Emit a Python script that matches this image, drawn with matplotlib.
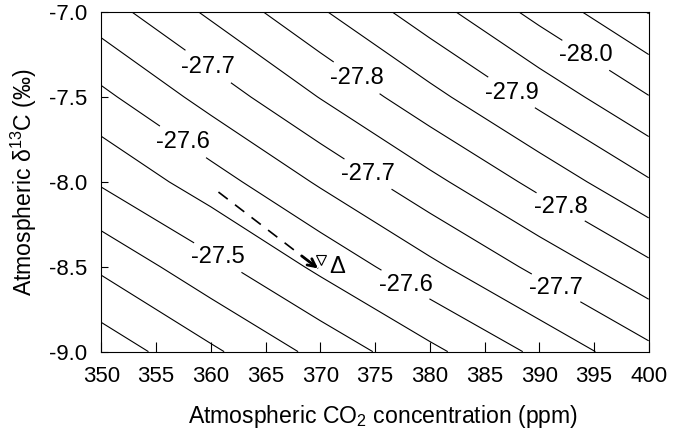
import matplotlib
matplotlib.use('Agg')
import matplotlib.pyplot as plt
import numpy as np

plt.rcParams['font.family'] = ['Liberation Sans', 'DejaVu Sans']
plt.rcParams['mathtext.fontset'] = 'custom'
plt.rcParams['mathtext.rm'] = 'Liberation Sans'
plt.rcParams['mathtext.it'] = 'Liberation Sans:italic'
plt.rcParams['axes.unicode_minus'] = False

# grid
co2 = [350, 360, 370, 380, 390, 400]
d13c_atm = [-9.0, -8.5, -8.0, -7.5, -7.0]
d13c_plant = [
    [-27.319, -27.391, -27.465, -27.538, -27.611, -27.687],
    [-27.409, -27.485, -27.561, -27.638, -27.714, -27.789],
    [-27.506, -27.577, -27.657, -27.736, -27.815, -27.895],
    [-27.588, -27.670, -27.752, -27.834, -27.916, -27.998],
    [-27.677, -27.759, -27.844, -27.929, -28.016, -28.102],
]

plain_levels = [-28.10, -28.05, -27.95, -27.85, -27.75, -27.65, -27.55,
                -27.45, -27.40, -27.35]
label_levels = [-28.0, -27.9, -27.8, -27.7, -27.6, -27.5]
label_spots = [(360.1, -7.29), (374.4, -7.95), (391.4, -8.64),
               (357.4, -7.77), (378.1, -8.57),
               (373.4, -7.38), (392.2, -8.12),
               (394.0, -7.28), (387.4, -7.48), (360.2, -8.49)]

arrow_co2 = [360.7, 369.8]
arrow_d13c = [-8.06, -8.51]

fig, ax = plt.subplots(figsize=(6.8, 4.32), dpi=100)
fig.subplots_adjust(left=0.149, right=0.954, bottom=0.186, top=0.972)

ax.contour(co2, d13c_atm, d13c_plant, levels=plain_levels,
           colors='black', linewidths=0.8, linestyles='solid')
cs = ax.contour(co2, d13c_atm, d13c_plant, levels=label_levels,
                colors='black', linewidths=0.8, linestyles='solid')
labels = ax.clabel(cs, manual=label_spots, inline=True,
                   inline_spacing=1, fmt='%.1f', fontsize=17)
for t in labels:
    t.set_rotation(0)

# shift arrow
ax.plot(arrow_co2, arrow_d13c, color='black', lw=1.2, dashes=(7, 5.5))
ax.annotate('', xy=(arrow_co2[1], arrow_d13c[1]),
            xytext=(arrow_co2[1] - 1.5, arrow_d13c[1] + 0.074),
            arrowprops=dict(arrowstyle='->', lw=2.0, color='black',
                            mutation_scale=14, shrinkA=0, shrinkB=0))
ax.plot([370.06], [-8.46], marker='v', ms=7, mfc='none', mec='black', mew=0.8)
ax.text(370.8, -8.5, 'Δ', fontsize=17, va='center', ha='left')

ax.set_xlim(350, 400)
ax.set_ylim(-9, -7)
ax.set_xticks(range(350, 401, 5))
ax.set_yticks([-9.0, -8.5, -8.0, -7.5, -7.0])
ax.yaxis.set_major_formatter('{x:.1f}')
ax.tick_params(direction='in', labelsize=16)
ax.tick_params(axis='x', length=7.5, pad=10)
ax.tick_params(axis='y', length=5, pad=10)

ax.set_xlabel('Atmospheric CO$_2$ concentration (ppm)', fontsize=16.6)
ax.xaxis.set_label_coords(0.5145, -0.152)
ax.set_ylabel('Atmospheric δ$^{13}$C (‰)', fontsize=16.6, labelpad=7)

fig.savefig('out.png', dpi=100)
